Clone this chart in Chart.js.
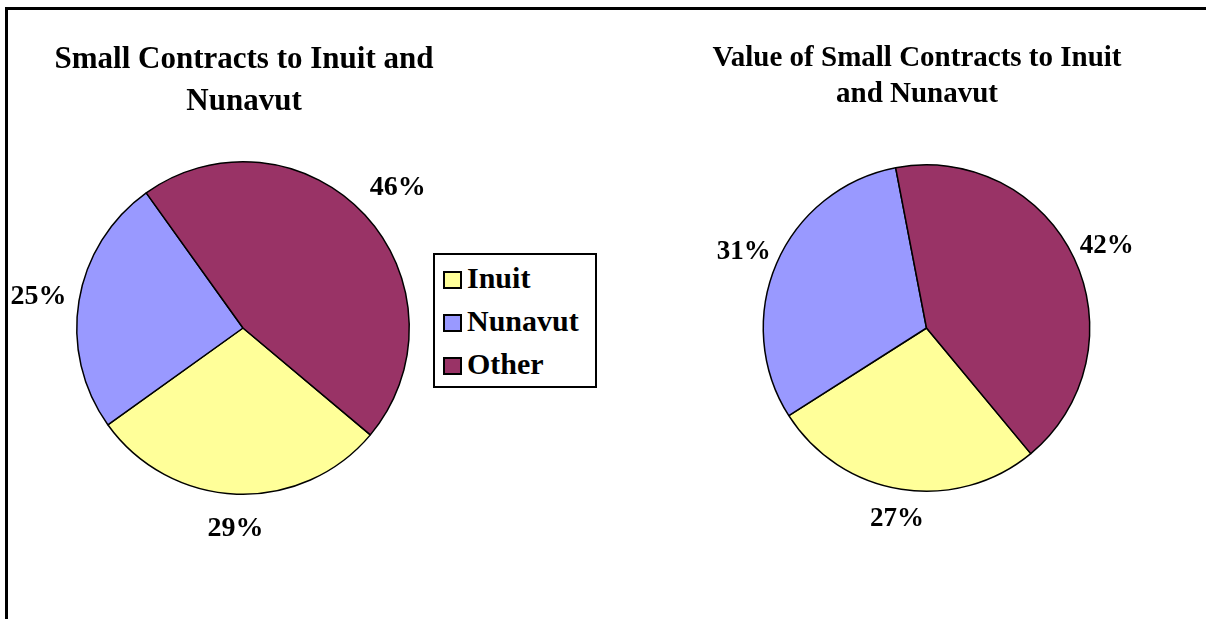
<!DOCTYPE html>
<html>
<head>
<meta charset="utf-8">
<title>Small Contracts to Inuit and Nunavut</title>
<script src="https://cdn.jsdelivr.net/npm/chart.js@4.4.0/dist/chart.umd.min.js"></script>
<style>
    body { margin: 0; background: #fff; }
    #wrap { position: relative; width: 1206px; height: 619px; overflow: hidden; }
    #frame { position: absolute; left: 5px; top: 7px; right: -10px; bottom: -10px;
             border-top: 3px solid #000; border-left: 3px solid #000; }
    canvas { position: absolute; top: 0; }
    #legend { position: absolute; left: 433px; top: 253px; width: 160px; height: 131px;
              border: 2px solid #000; background: #fff;
              font: bold 30px "Liberation Serif", "DejaVu Serif", serif; }
    #legend .item { position: absolute; left: 8px; height: 30px; line-height: 30px; white-space: nowrap; }
    #legend .sw { display: inline-block; box-sizing: border-box; width: 19px; height: 18px;
                  border: 2px solid #000; margin-right: 5px; vertical-align: -1px; }
</style>
</head>
<body>
<div id="wrap">
    <div id="frame"></div>
    <canvas id="left" width="600" height="619" style="left:0"></canvas>
    <canvas id="right" width="606" height="619" style="left:600px"></canvas>
    <div id="legend"></div>
</div>
<script>
// 数据
const categories = ['Inuit', 'Nunavut', 'Other'];
const countShare = [29, 25, 46];   // 合同数量 %
const valueShare = [27, 31, 42];   // 合同金额 %
const colors = ['#FFFF99', '#9999FF', '#993366'];

const titleLeft = ['Small Contracts to Inuit and', 'Nunavut'];
const titleRight = ['Value of Small Contracts to Inuit', 'and Nunavut'];

const serif = '"Liberation Serif", "DejaVu Serif", serif';

// 标题 + 外侧百分比标签
const piePlugin = {
    id: 'pieText',
    afterDatasetsDraw(chart, args, opts) {
        const ctx = chart.ctx;
        const meta = chart.getDatasetMeta(0);
        const data = chart.data.datasets[0].data;
        const total = data.reduce((a, b) => a + b, 0);
        ctx.save();
        ctx.fillStyle = '#000';
        ctx.textAlign = 'center';
        ctx.textBaseline = 'middle';
        ctx.font = 'bold ' + opts.labelSize + 'px ' + serif;
        meta.data.forEach((arc, i) => {
            const mid = (arc.startAngle + arc.endAngle) / 2;
            const txt = Math.round(data[i] / total * 100) + '%';
            const w = ctx.measureText(txt).width;
            const h = opts.labelSize * 1.5;
            const c = Math.cos(mid), s = Math.sin(mid);
            const d = arc.outerRadius + opts.labelGap + Math.abs(c) * w / 2 + Math.abs(s) * h / 2;
            ctx.fillText(txt, arc.x + c * d, arc.y + s * d + 3);
        });
        // 标题
        ctx.font = 'bold ' + opts.titleSize + 'px ' + serif;
        ctx.textBaseline = 'alphabetic';
        opts.title.forEach((line, i) => {
            ctx.fillText(line, opts.titleX, opts.titleY + i * opts.titleLine);
        });
        ctx.restore();
    }
};

function makePie(id, values, rotation, padding, textOpts) {
    return new Chart(document.getElementById(id), {
        type: 'pie',
        data: {
            labels: categories,
            datasets: [{
                data: values,
                backgroundColor: colors,
                borderColor: '#000',
                borderWidth: 1.5
            }]
        },
        options: {
            responsive: false,
            animation: false,
            devicePixelRatio: 1,
            rotation: rotation,
            layout: { padding: padding },
            plugins: {
                legend: { display: false },
                tooltip: { enabled: false },
                pieText: textOpts
            }
        },
        plugins: [piePlugin]
    });
}

makePie('left', countShare, 130,
    { left: 76, right: 190, top: 161, bottom: 124 },
    { labelSize: 28, labelGap: 10, title: titleLeft, titleSize: 31, titleX: 244, titleY: 68, titleLine: 42 });

makePie('right', valueShare, 140.3,
    { left: 162, right: 115, top: 164, bottom: 127 },
    { labelSize: 27, labelGap: 3, title: titleRight, titleSize: 29, titleX: 317, titleY: 66, titleLine: 36 });

// 图例
const legend = document.getElementById('legend');
categories.forEach((name, i) => {
    const item = document.createElement('div');
    item.className = 'item';
    item.style.top = (8 + i * 43) + 'px';
    item.innerHTML = '<span class="sw" style="background:' + colors[i] + '"></span>' + name;
    legend.appendChild(item);
});
</script>
</body>
</html>
